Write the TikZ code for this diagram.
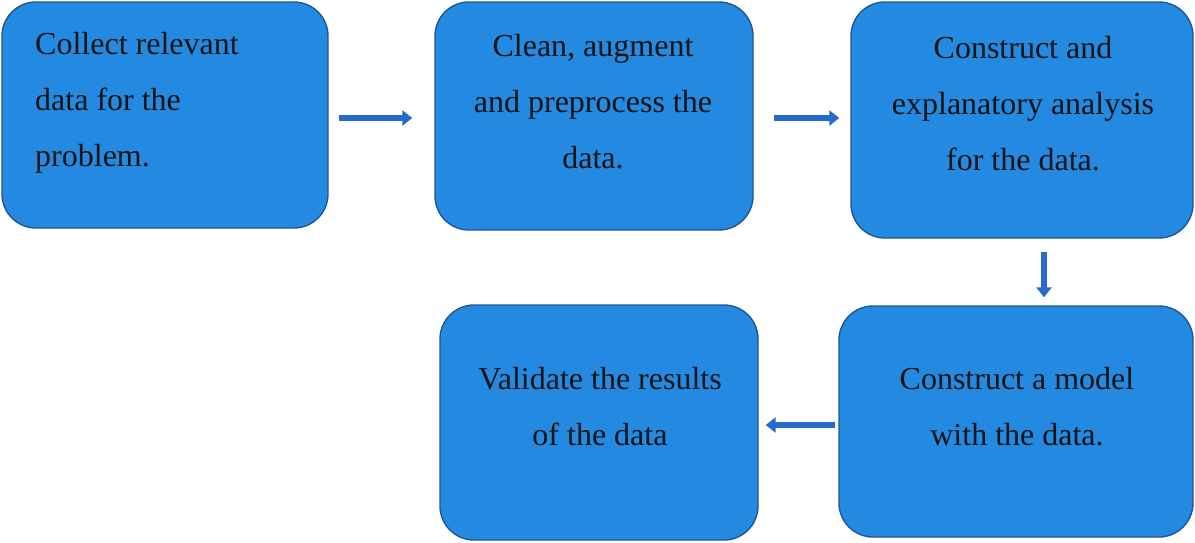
\documentclass[tikz,border=0pt]{standalone}
\usepackage{fontspec}
\setmainfont{Liberation Serif}
\usetikzlibrary{arrows.meta,calc}
\definecolor{boxfill}{RGB}{36,137,224}
\definecolor{boxline}{RGB}{30,88,150}
\definecolor{arrowcol}{RGB}{36,108,200}
\definecolor{txtcol}{RGB}{20,20,20}
\tikzset{
  stepbox/.style={draw=boxline, line width=1.4pt, fill=boxfill, rounded corners=34pt, inner sep=0pt},
  boxtext/.style={text=txtcol, font=\fontsize{32}{56}\selectfont, inner sep=0pt},
  flow/.style={draw=arrowcol, line width=5.5pt, -{Triangle[length=10pt,width=15pt]}},
}
\begin{document}
\begin{tikzpicture}[x=1pt,y=-1pt]
\useasboundingbox (0,0) rectangle (1195,542);
\node[stepbox, minimum width=326pt, minimum height=226pt] (b1) at (165,115) {};
\node[stepbox, minimum width=318pt, minimum height=228pt] (b2) at (594,116) {};
\node[stepbox, minimum width=342pt, minimum height=236pt] (b3) at (1022,120) {};
\node[stepbox, minimum width=354pt, minimum height=231pt] (b4) at (1016,421.5) {};
\node[stepbox, minimum width=318pt, minimum height=235pt] (b5) at (599,422.5) {};

\node[boxtext, align=left, anchor=west] (t1) at (35,103) {Collect relevant\\data for the\\problem.};
\node[boxtext, align=center] (t2) at (593,102) {Clean, augment\\and preprocess the\\data.};
\node[boxtext, align=center] (t3) at (1023,104) {Construct and\\explanatory analysis\\for the data.};
\node[boxtext, align=center] (t4) at (1017,407) {Construct a model\\with the data.};
\node[boxtext, align=center] (t5) at (600,407) {Validate the results\\of the data};

\draw[flow, shorten <=10pt, shorten >=22pt] ($(b1.east)+(0,3)$) -- ($(b2.west)+(0,2)$);
\draw[flow, shorten <=20pt, shorten >=11pt] ($(b2.east)+(0,2)$) -- ($(b3.west)+(0,-2)$);
\draw[flow, shorten <=13pt, shorten >=8pt] ($(b3.south)+(22,0)$) -- ($(b4.north)+(28,0)$);
\draw[flow, shorten <=3pt, shorten >=7pt] ($(b4.west)+(0,3.5)$) -- ($(b5.east)+(0,2.5)$);
\end{tikzpicture}
\end{document}
